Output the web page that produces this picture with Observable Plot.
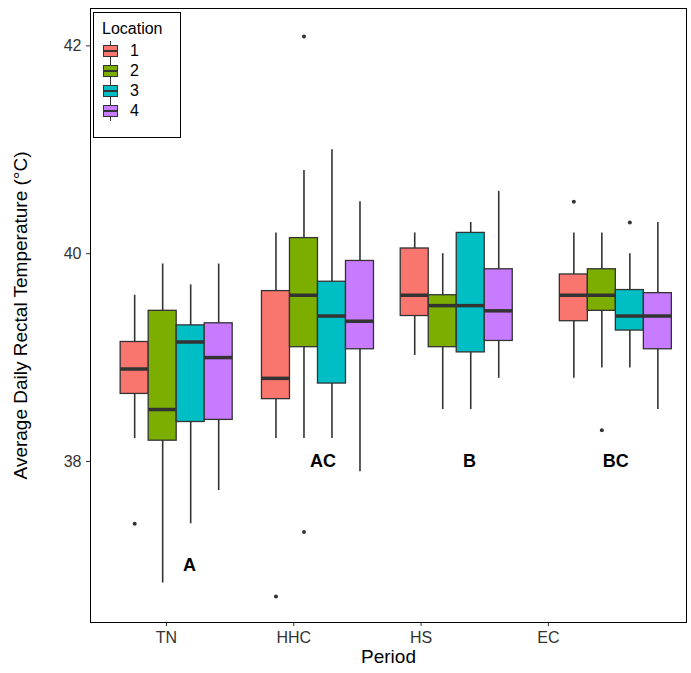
<!DOCTYPE html>
<html><head><meta charset="utf-8">
<script src="https://cdn.jsdelivr.net/npm/d3@7"></script>
<script src="https://cdn.jsdelivr.net/npm/@observablehq/plot@0.6"></script>
<style>body{margin:0;background:#fff;font-family:Arial,"Liberation Sans",sans-serif}
#wrap{position:relative;width:691px;height:673px}
#leg{position:absolute;left:93px;top:12px;width:88px;height:126px;border:1px solid #000;background:#fff;box-sizing:border-box;padding:7px 0 0 8px;font-size:16px}
#leg .t{margin-bottom:3px}
#leg .r{display:flex;align-items:center;height:20px}
#leg .k{position:relative;width:18px;height:20px;margin-right:10px}
#leg .k b{position:absolute;left:1px;top:4px;width:15px;height:12px;border:1px solid #333;box-sizing:border-box}
#leg .k i{position:absolute;left:8px;top:0;width:1px;height:20px;background:#333}
#leg .k u{position:absolute;left:1px;top:9px;width:15px;height:2px;background:#333}
</style></head><body><div id="wrap"></div>
<script>
const periods = ["TN","HHC","HS","EC"];
const periodCenter = [1.08, 2.19, 3.28, 4.53];
const letters = ["A","AC","B","BC"];
const letterY = [37.0, 38.0, 38.0, 38.0];
const letterX = [1.18, 2.23, 3.38, 4.53];
const locations = ["1","2","3","4"];
const colors = ["#F8766D","#7CAE00","#00BFC4","#C77CFF"];
// per period: per location [lo, q1, median, q3, hi]
const TN  = [[38.22,38.65,38.89,39.15,39.6],[36.83,38.2,38.5,39.45,39.9],[37.4,38.38,39.15,39.31,39.7],[37.72,38.4,39.0,39.33,39.9]];
const HHC = [[38.22,38.6,38.8,39.64,40.2],[38.22,39.1,39.6,40.15,40.8],[38.22,38.75,39.4,39.73,41.0],[37.9,39.08,39.35,39.93,40.5]];
const HS  = [[39.02,39.4,39.6,40.05,40.2],[38.5,39.1,39.5,39.6,40.0],[38.5,39.05,39.5,40.2,40.3],[38.8,39.16,39.45,39.85,40.6]];
const EC  = [[38.8,39.35,39.6,39.8,40.2],[38.9,39.45,39.6,39.85,40.2],[38.9,39.26,39.4,39.65,40.0],[38.5,39.08,39.4,39.62,40.3]];
const outliers = [["TN","1",37.4],["HHC","1",36.7],["HHC","2",42.09],["HHC","2",37.32],["EC","1",40.5],["EC","2",38.3],["EC","3",40.3]];

const stats = [TN,HHC,HS,EC];
const boxW = 0.22;
const boxes = [];
periods.forEach((p,i)=>locations.forEach((l,j)=>{
  const [lo,q1,md,q3,hi] = stats[i][j];
  const c = periodCenter[i] + (j-1.5)*boxW;
  boxes.push({p,l,c,x1:c-boxW/2,x2:c+boxW/2,lo,q1,md,q3,hi,color:colors[j]});
}));
const pts = outliers.map(([p,l,v])=>{
  const b = boxes.find(d=>d.p===p&&d.l===l); return {x:b.c,v};
});
const labs = letters.map((t,i)=>({t,x:letterX[i],y:letterY[i]}));

const chart = Plot.plot({
  width:691,height:673,marginLeft:90,marginRight:5,marginTop:8,marginBottom:51,
  style:{fontSize:"16px",fontFamily:"Arial, 'Liberation Sans', sans-serif",color:"#333"},
  x:{domain:[0.403,5.085],ticks:[1,2,3,4],tickFormat:d=>periods[d-1],label:null,tickSize:4},
  y:{domain:[36.45,42.36],ticks:[38,40,42],tickFormat:d=>String(d),label:null,tickSize:4},
  marks:[
    Plot.ruleX(boxes,{x:"c",y1:"lo",y2:"hi",stroke:"#333",strokeWidth:1.6}),
    Plot.rect(boxes,{x1:"x1",x2:"x2",y1:"q1",y2:"q3",fill:"color",stroke:"#333",strokeWidth:1.3}),
    Plot.ruleY(boxes,{y:"md",x1:"x1",x2:"x2",stroke:"#333",strokeWidth:3.5}),
    Plot.dot(pts,{x:"x",y:"v",r:2,fill:"#333",stroke:null}),
    Plot.text(labs,{x:"x",y:"y",text:"t",fontSize:18,fontWeight:"bold",fill:"#000"}),
    Plot.frame({stroke:"#000"}),
    Plot.text(["Period"],{frameAnchor:"bottom",dy:40,fontSize:19,fill:"#000"}),
    Plot.text(["Average Daily Rectal Temperature (°C)"],{frameAnchor:"left",textAnchor:"middle",dx:-70,rotate:-90,fontSize:19,fill:"#000"})
  ]
});
const wrap=document.getElementById("wrap");
wrap.appendChild(chart);
const leg=document.createElement("div");leg.id="leg";
leg.innerHTML='<div class="t">Location</div>'+locations.map((l,j)=>`<div class="r"><span class="k"><i></i><b style="background:${colors[j]}"></b><u></u></span>${l}</div>`).join("");
wrap.appendChild(leg);
</script></body></html>
